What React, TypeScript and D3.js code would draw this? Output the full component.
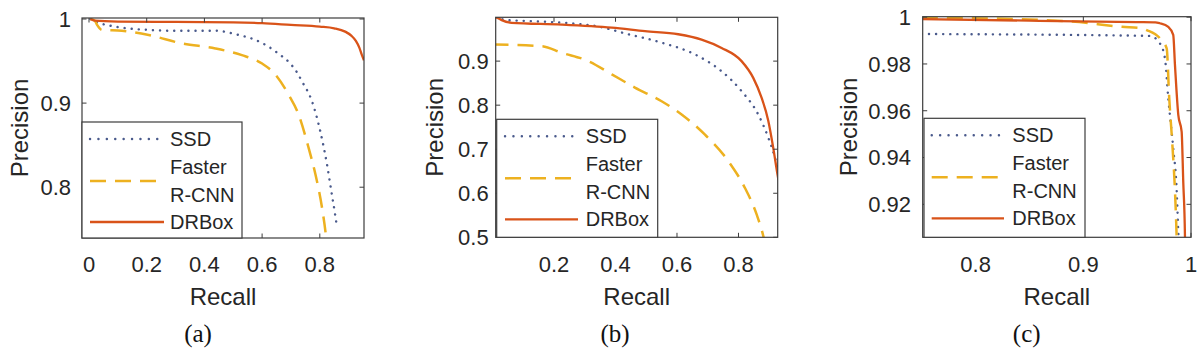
import React from "react";
import * as d3 from "d3";

// ---------- DATA ----------
const seriesNames = ["SSD", "Faster R-CNN", "DRBox"];
const legendLabels = ["SSD", "Faster", "R-CNN", "DRBox"];
const captions = ["(a)", "(b)", "(c)"];
const xLabel = "Recall";
const yLabel = "Precision";

const xTicksA = [0, 0.2, 0.4, 0.6, 0.8];
const yTicksA = [0.8, 0.9, 1];
const xTicksB = [0.2, 0.4, 0.6, 0.8];
const yTicksB = [0.5, 0.6, 0.7, 0.8, 0.9];
const xTicksC = [0.8, 0.9, 1];
const yTicksC = [0.92, 0.94, 0.96, 0.98, 1];

const xDomainA = [-0.0243, 0.9532];
const yDomainA = [0.7396, 1.0012];
const xDomainB = [0.0104, 0.9275];
const yDomainB = [0.5, 0.9995];
const xDomainC = [0.7508, 1.0];
const yDomainC = [0.9059, 1.0002];

// panel (a)
const ssdA = [[0.005, 1.0], [0.03, 0.996], [0.09, 0.991], [0.207, 0.987], [0.3, 0.986], [0.437, 0.986], [0.519, 0.981], [0.57, 0.976], [0.623, 0.967], [0.66, 0.958], [0.692, 0.949], [0.72, 0.937], [0.738, 0.926], [0.773, 0.902], [0.802, 0.866], [0.825, 0.827], [0.842, 0.791], [0.852, 0.77], [0.86, 0.752]];
const fasterA = [[0.005, 1.0], [0.02, 0.998], [0.028, 0.993], [0.045, 0.987], [0.114, 0.986], [0.207, 0.981], [0.322, 0.971], [0.438, 0.965], [0.53, 0.957], [0.6, 0.947], [0.646, 0.934], [0.692, 0.91], [0.727, 0.886], [0.761, 0.847], [0.785, 0.815], [0.808, 0.775], [0.822, 0.74], [0.825, 0.73]];
const drboxA = [[0.005, 1.0], [0.02, 0.998], [0.1, 0.997], [0.3, 0.9965], [0.5, 0.996], [0.6, 0.995], [0.7, 0.993], [0.8, 0.991], [0.85, 0.989], [0.888, 0.985], [0.91, 0.98], [0.925, 0.974], [0.937, 0.966], [0.946, 0.957], [0.953, 0.951]];

// panel (b)
const ssdB = [[0.01, 0.999], [0.05, 0.993], [0.117, 0.991], [0.25, 0.986], [0.333, 0.98], [0.442, 0.961], [0.55, 0.942], [0.659, 0.915], [0.745, 0.877], [0.81, 0.832], [0.864, 0.779], [0.897, 0.726], [0.919, 0.68], [0.93, 0.65]];
const fasterB = [[0.0, 0.938], [0.16, 0.934], [0.225, 0.919], [0.312, 0.9], [0.388, 0.87], [0.463, 0.84], [0.55, 0.809], [0.615, 0.779], [0.691, 0.733], [0.767, 0.673], [0.821, 0.612], [0.859, 0.552], [0.881, 0.502], [0.885, 0.49]];
const drboxB = [[0.0, 1.0], [0.014, 0.999], [0.03, 0.993], [0.062, 0.987], [0.225, 0.983], [0.388, 0.976], [0.496, 0.968], [0.604, 0.961], [0.68, 0.949], [0.745, 0.93], [0.81, 0.9], [0.848, 0.862], [0.875, 0.817], [0.897, 0.764], [0.913, 0.703], [0.927, 0.642], [0.93, 0.63]];

// panel (c)
const ssdC = [[0.75, 0.9928], [0.9618, 0.992], [0.9711, 0.9888], [0.9758, 0.9824], [0.9789, 0.9653], [0.9835, 0.944], [0.9866, 0.9269], [0.9882, 0.9083], [0.989, 0.9]];
const fasterC = [[0.75, 0.9998], [0.85, 0.999], [0.8894, 0.9981], [0.9358, 0.9959], [0.9544, 0.9953], [0.9588, 0.9945], [0.9711, 0.991], [0.9774, 0.9867], [0.9798, 0.9653], [0.9829, 0.944], [0.985, 0.9269], [0.9866, 0.9069], [0.987, 0.9]];
const drboxC = [[0.75, 0.9992], [0.85, 0.9985], [0.95, 0.9979], [0.9668, 0.9978], [0.9711, 0.9974], [0.9789, 0.9959], [0.9835, 0.9924], [0.9851, 0.9796], [0.9882, 0.9582], [0.9913, 0.9511], [0.9928, 0.9297], [0.9944, 0.9062], [0.9946, 0.9]];

// ---------- STYLE / LAYOUT ----------
const TEXT = "#262626";
const AXIS = "#3c3c3c";
const styles = [
  { color: "#4a5a8c", width: 2.4, dash: "0.1,7", legDash: "0.1,8.3", cap: "round" },
  { color: "#EDB120", width: 2.5, dash: "16,9", legDash: "16,9", cap: "butt" },
  { color: "#D95319", width: 2.3, dash: null, legDash: null, cap: "butt" },
];
const SANS = "'Liberation Sans', Arial, Helvetica, sans-serif";
const SERIF = "'Liberation Serif', 'Times New Roman', serif";

const panels = [
  { box: [82, 364, 18, 238], xd: xDomainA, yd: yDomainA, xt: xTicksA, yt: yTicksA, series: [ssdA, fasterA, drboxA],
    leg: [82, 242, 122], lineX: [90, 164], textX: 170, ylabX: 28, gap: 11, cap: 198, yfmt: (v: number) => (v === 1 ? "1" : d3.format(".1f")(v)), xfmt: (v: number) => (v === 0 ? "0" : d3.format(".1f")(v)) },
  { box: [495.7, 777.7, 17.3, 237.3], xd: xDomainB, yd: yDomainB, xt: xTicksB, yt: yTicksB, series: [ssdB, fasterB, drboxB],
    leg: [496.7, 657.7, 119.3], lineX: [505, 578], textX: 585.7, ylabX: 442.7, gap: 7, cap: 615, yfmt: (v: number) => d3.format(".1f")(v), xfmt: (v: number) => d3.format(".1f")(v) },
  { box: [922.7, 1191, 16.7, 237.3], xd: xDomainC, yd: yDomainC, xt: xTicksC, yt: yTicksC, series: [ssdC, fasterC, drboxC],
    leg: [924, 1085, 118.3], lineX: [931.7, 1004], textX: 1012.3, ylabX: 856.7, gap: 11.7, cap: 1026.7, yfmt: (v: number) => (v === 1 ? "1" : d3.format(".2f")(v)), xfmt: (v: number) => (v === 1 ? "1" : d3.format(".1f")(v)) },
];

function Panel({ p, idx }: { p: any; idx: number }) {
  const [x0, x1, y0, y1] = p.box;
  const x = d3.scaleLinear().domain(p.xd).range([x0, x1]);
  const y = d3.scaleLinear().domain(p.yd).range([y1, y0]);
  const line = d3.line<number[]>().x((d) => x(d[0])).y((d) => y(d[1])).curve(d3.curveMonotoneX);
  const clipId = `clip-${idx}`;
  const tl = 4.5;
  const [lx0, lx1, ly0] = p.leg;
  const ly1 = y1;
  const rowY = [ly0 + 17, ly0 + 45, ly0 + 73, ly0 + 100];
  const sampleY = [ly0 + 17, ly0 + 59, ly0 + 100];
  return (
    <g>
      <defs>
        <clipPath id={clipId}>
          <rect x={x0} y={y0} width={x1 - x0} height={y1 - y0} />
        </clipPath>
      </defs>
      <rect x={x0} y={y0} width={x1 - x0} height={y1 - y0} fill="#fff" />
      <g clipPath={`url(#${clipId})`}>
        {p.series.map((s: number[][], i: number) => (
          <path key={i} d={line(s) || ""} fill="none" stroke={styles[i].color} strokeWidth={styles[i].width}
            strokeDasharray={styles[i].dash || undefined} strokeLinecap={styles[i].cap as any} strokeLinejoin="round" />
        ))}
      </g>
      {p.xt.map((t: number) => (
        <g key={`xt${t}`}>
          <line x1={x(t)} x2={x(t)} y1={y1} y2={y1 - tl} stroke={AXIS} strokeWidth={1} />
          <line x1={x(t)} x2={x(t)} y1={y0} y2={y0 + tl} stroke={AXIS} strokeWidth={1} />
          <text x={x(t)} y={272} textAnchor="middle" fontFamily={SANS} fontSize={22} fill={TEXT}>{p.xfmt(t)}</text>
        </g>
      ))}
      {p.yt.map((t: number) => (
        <g key={`yt${t}`}>
          <line x1={x0} x2={x0 + tl} y1={y(t)} y2={y(t)} stroke={AXIS} strokeWidth={1} />
          <line x1={x1} x2={x1 - tl} y1={y(t)} y2={y(t)} stroke={AXIS} strokeWidth={1} />
          <text x={x0 - p.gap} y={y(t) + 7.8} textAnchor="end" fontFamily={SANS} fontSize={22} fill={TEXT}>{p.yfmt(t)}</text>
        </g>
      ))}
      <rect x={x0} y={y0} width={x1 - x0} height={y1 - y0} fill="none" stroke={AXIS} strokeWidth={1.2} />
      <rect x={lx0} y={ly0} width={lx1 - lx0} height={ly1 - ly0} fill="#fff" stroke={AXIS} strokeWidth={1.2} />
      {seriesNames.map((n, i) => (
        <line key={n} x1={p.lineX[0]} x2={p.lineX[1]} y1={sampleY[i]} y2={sampleY[i]} stroke={styles[i].color}
          strokeWidth={styles[i].width} strokeDasharray={styles[i].legDash || undefined} strokeLinecap={styles[i].cap as any} />
      ))}
      {legendLabels.map((t, i) => (
        <text key={t} x={p.textX} y={rowY[i] + 7} fontFamily={SANS} fontSize={20} fill={TEXT}>{t}</text>
      ))}
      <text x={(x0 + x1) / 2} y={305} textAnchor="middle" fontFamily={SANS} fontSize={24} fill={TEXT}>{xLabel}</text>
      <text transform={`translate(${p.ylabX},${(y0 + y1) / 2}) rotate(-90)`} textAnchor="middle" fontFamily={SANS} fontSize={24} fill={TEXT}>{yLabel}</text>
      <text x={p.cap} y={342} textAnchor="middle" fontFamily={SERIF} fontSize={25} fill="#111">{captions[idx]}</text>
    </g>
  );
}

export default function App() {
  return (
    <svg width={1200} height={355} viewBox="0 0 1200 355" style={{ position: "absolute", left: 0, top: 0, background: "#fff" }}>
      <rect x={0} y={0} width={1200} height={355} fill="#fff" />
      {panels.map((p, i) => (
        <Panel key={i} p={p} idx={i} />
      ))}
    </svg>
  );
}
